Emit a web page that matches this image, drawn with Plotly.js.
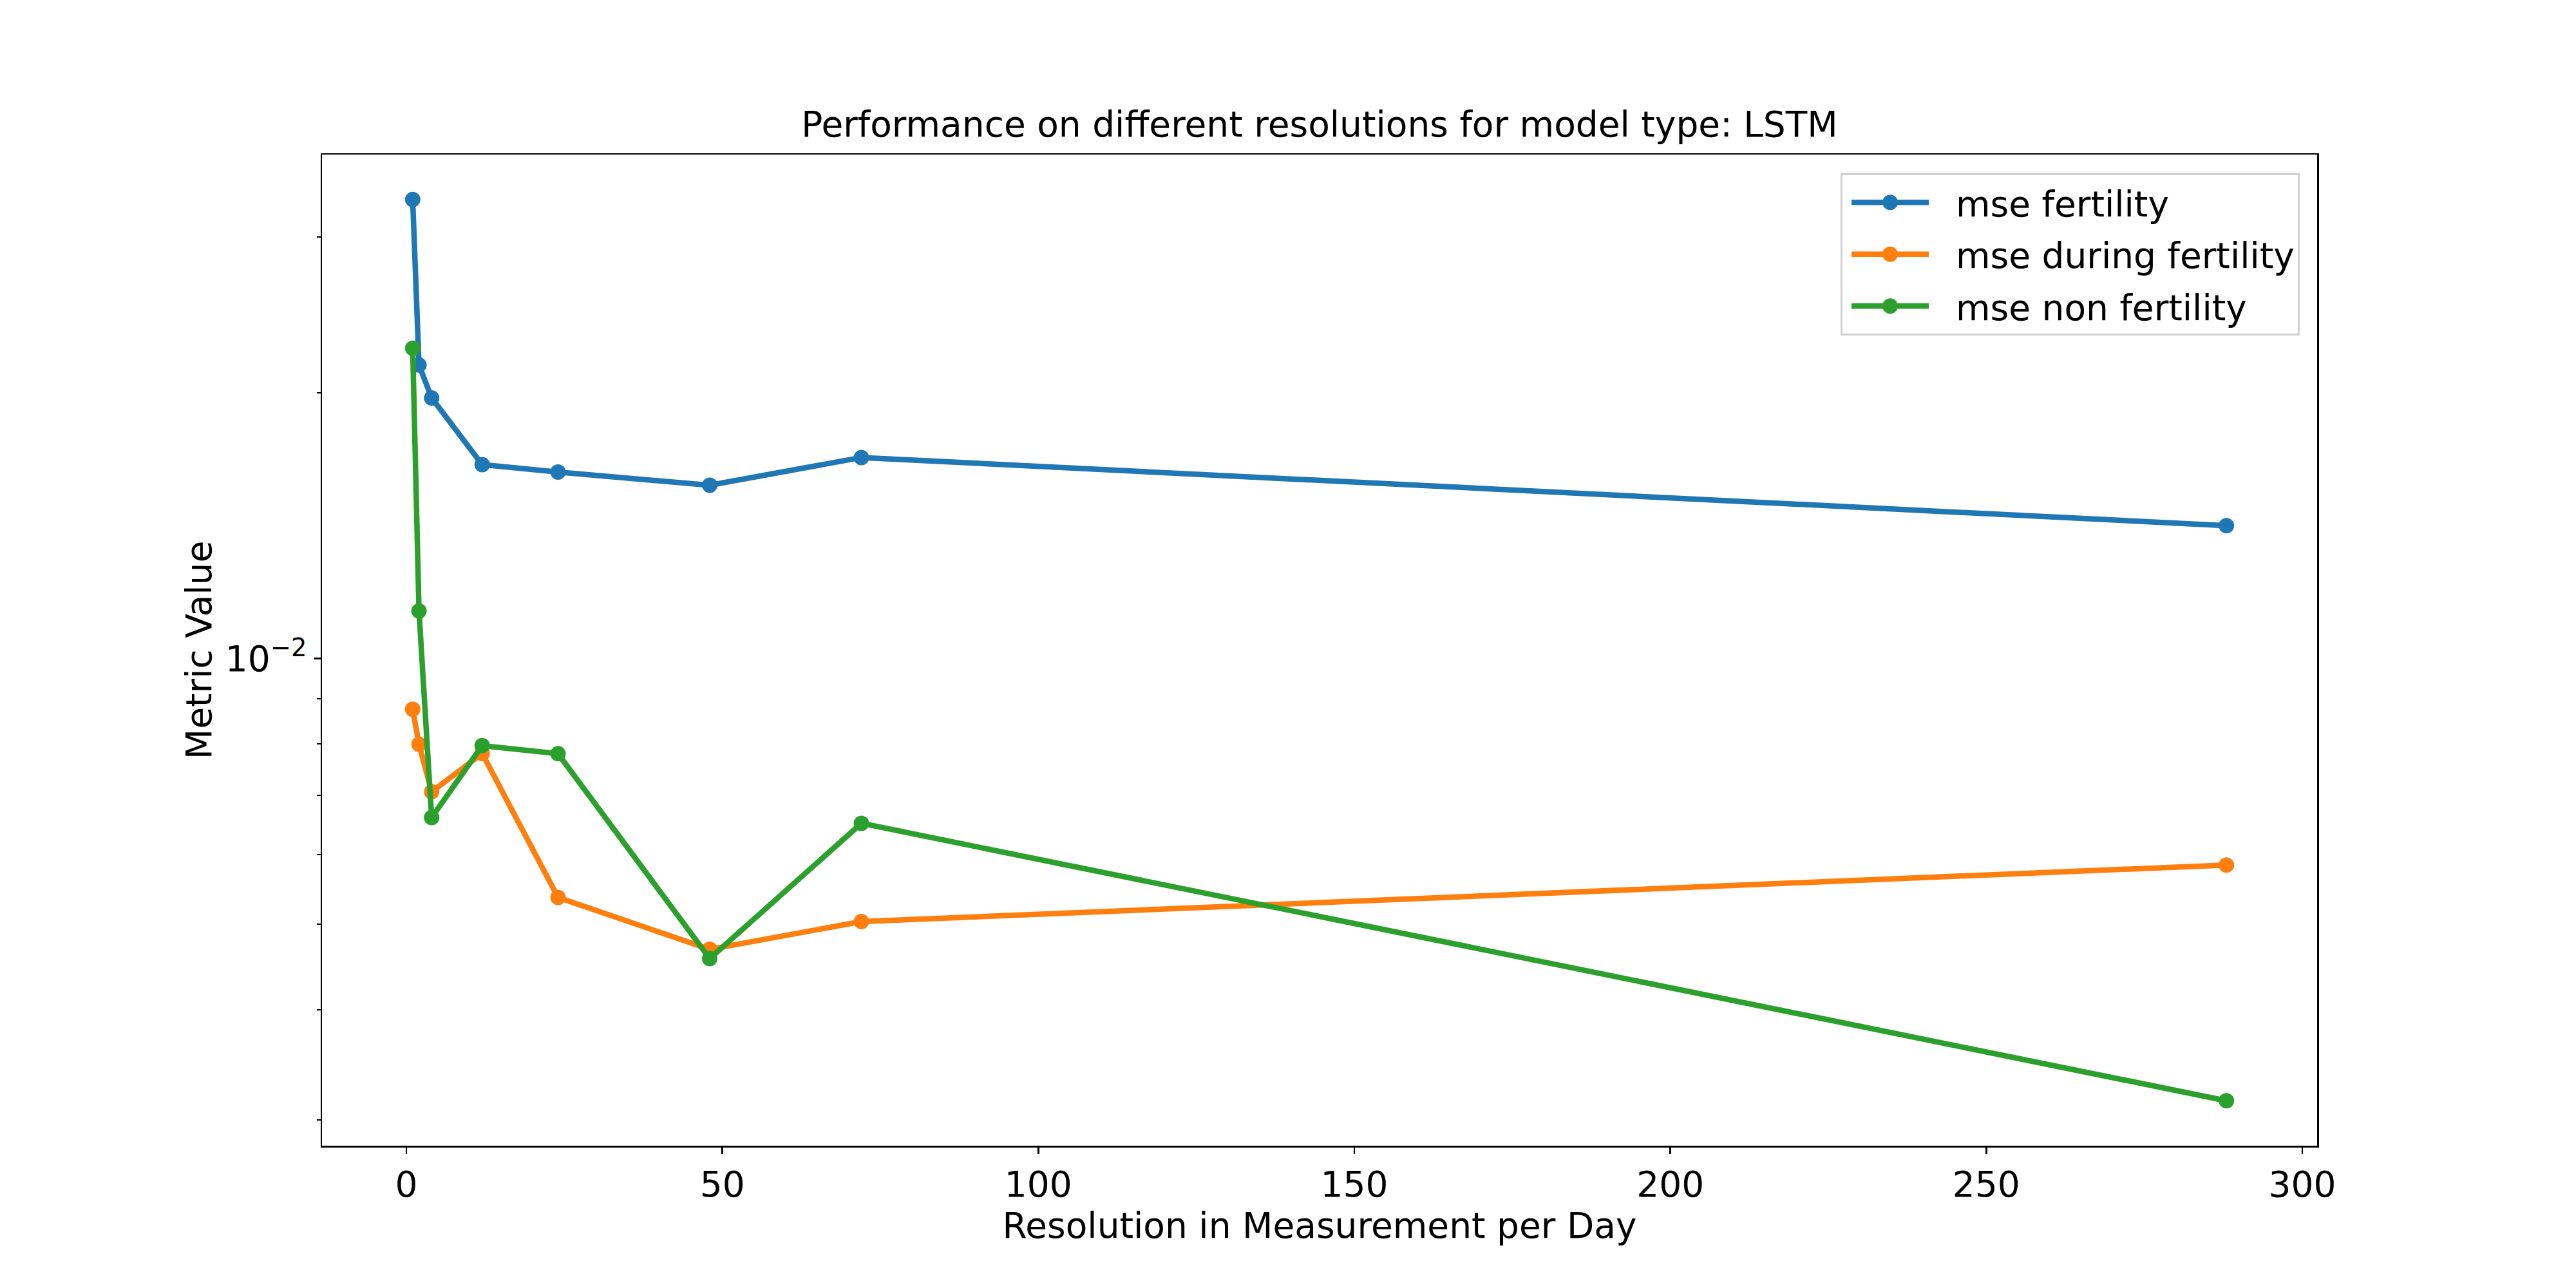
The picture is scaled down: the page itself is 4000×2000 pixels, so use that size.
<!DOCTYPE html>
<html>
<head>
<meta charset="utf-8">
<script src="https://cdn.plot.ly/plotly-3.0.1.min.js"></script>
<style>
  html, body { margin: 0; padding: 0; background: #fff; }
  #chart { width: 4000px; height: 2000px; }
</style>
</head>
<body>
<div id="chart"></div>
<script>
// resolutions (measurements per day)
const resolutions = [1, 2, 4, 12, 24, 48, 72, 288];

// metric values (log scale)
const mseFertility       = [0.03310, 0.02150, 0.01973, 0.01658, 0.01626, 0.01571, 0.01689, 0.01414];
const mseDuringFertility = [0.008761, 0.007993, 0.007063, 0.007806, 0.005361, 0.004683, 0.005035, 0.005834];
const mseNonFertility    = [0.02246, 0.01132, 0.006603, 0.007966, 0.007800, 0.004571, 0.006505, 0.003155];

const seriesNames = ['mse fertility', 'mse during fertility', 'mse non fertility'];
const seriesColors = ['#1f77b4', '#ff7f0e', '#2ca02c'];

const yMajorTicks = [0.01];
const yMajorLabels = ['10<sup>\u22122</sup>'];
const yMinorTicks = [0.003, 0.004, 0.005, 0.006, 0.007, 0.008, 0.009, 0.02, 0.03];

const FONT = 'DejaVu Sans, sans-serif';

function makeTrace(ys, i) {
    return {
        x: resolutions,
        y: ys,
        name: seriesNames[i],
        legendgroup: 'g' + i,
        type: 'scatter',
        mode: 'lines+markers',
        line: { color: seriesColors[i], width: 8.5 },
        marker: { color: seriesColors[i], size: 24 }
    };
}

const data = [mseFertility, mseDuringFertility, mseNonFertility].map(makeTrace);

const axisCommon = {
    showline: true,
    mirror: true,
    linecolor: '#000',
    linewidth: 2.5,
    showgrid: false,
    zeroline: false,
    ticks: 'outside',
    ticklen: 10,
    tickwidth: 2.5,
    tickcolor: '#000',
    tickfont: { family: FONT, size: 55, color: '#000' }
};

const layout = {
    width: 4000,
    height: 2000,
    paper_bgcolor: '#fff',
    plot_bgcolor: '#fff',
    font: { family: FONT, size: 55, color: '#000' },
    margin: { l: 500, r: 402, t: 240, b: 221 },
    title: {
        text: 'Performance on different resolutions for model type: LSTM',
        font: { family: FONT, size: 55, color: '#000' },
        xref: 'paper', x: 0.5, xanchor: 'center',
        yref: 'paper', y: 1, yanchor: 'bottom',
        pad: { b: 28 }
    },
    xaxis: Object.assign({}, axisCommon, {
        range: [-13.35, 302.35],
        tick0: 0,
        dtick: 50,
        title: { text: 'Resolution in Measurement per Day', font: { family: FONT, size: 55, color: '#000' }, standoff: 0 }
    }),
    yaxis: Object.assign({}, axisCommon, {
        type: 'log',
        range: [-2.5519, -1.4292],
        tickmode: 'array',
        tickvals: yMajorTicks,
        ticktext: yMajorLabels,
        minor: { tickmode: 'array', tickvals: yMinorTicks, ticks: 'outside', ticklen: 6, tickwidth: 2, tickcolor: '#000', showgrid: false },
        title: { text: 'Metric Value', font: { family: FONT, size: 55, color: '#000' }, standoff: 4 }
    }),
    legend: {
        x: 0.9913, xanchor: 'right',
        y: 0.9812, yanchor: 'top',
        bgcolor: 'rgba(255,255,255,0.8)',
        bordercolor: '#d0d0d0',
        borderwidth: 3,
        font: { family: FONT, size: 55, color: '#000' },
        itemwidth: 166,
        tracegroupgap: 6
    },
    showlegend: true
};

// matplotlib-style legend handles: long thick line with the marker in the middle
function fixLegend() {
    document.querySelectorAll('.legend .traces').forEach(function(g) {
        const line = g.querySelector('.legendlines path');
        if (line) {
            line.setAttribute('d', 'M14,0h120');
            line.style.strokeWidth = '8.5px';
        }
        const pt = g.querySelector('.legendpoints path.scatterpts');
        if (pt) {
            pt.setAttribute('transform', 'translate(74,0)');
            pt.setAttribute('d', 'M12,0A12,12 0 1,1 0,-12A12,12 0 0,1 12,0Z');
        }
    });
}

Plotly.newPlot('chart', data, layout, { staticPlot: true }).then(fixLegend);
</script>
</body>
</html>
